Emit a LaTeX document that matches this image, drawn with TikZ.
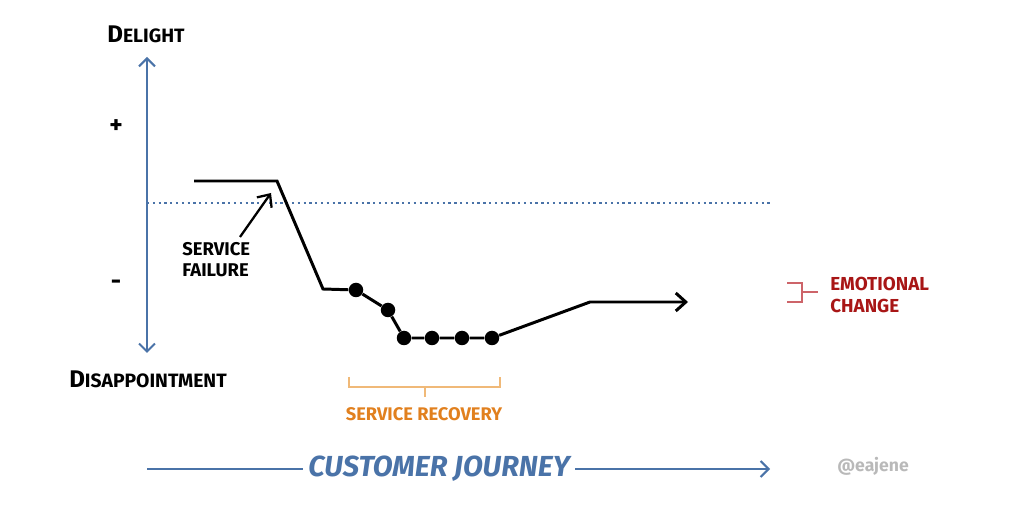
\documentclass[tikz,border=0pt]{standalone}
\usepackage{fontspec}
\setmainfont{Fira Sans}
\usepackage{tikz}
\usetikzlibrary{arrows.meta,positioning}
\definecolor{jblue}{RGB}{74,115,168}
\definecolor{jred}{RGB}{205,100,105}
\definecolor{jdarkred}{RGB}{168,22,22}
\definecolor{jorange}{RGB}{240,185,120}
\definecolor{jdarkorange}{RGB}{225,128,30}
\definecolor{jgrey}{RGB}{185,185,185}
\tikzstyle{axis} = [line width=1.2pt, color=jblue, >={Straight Barb[length=1.6mm,width=3.2mm]}]
\tikzstyle{journey} = [line width=1.7pt, color=black, ->, >={Straight Barb[length=2mm,width=3.6mm]}]
\tikzstyle{dot} = [circle, fill=black, inner sep=0pt, minimum size=0.29cm]
\tikzstyle{lbl} = [font=\bfseries, inner sep=1pt]
\tikzstyle{note} = [font=\bfseries\fontsize{10.5}{12}\selectfont, align=left, inner sep=0pt, anchor=west]
\newcommand{\bigfirst}[2]{{\fontsize{13.7}{15}\selectfont #1}{\fontsize{11}{13}\selectfont #2}}

\begin{document}
\begin{tikzpicture}[x=0.02cm, y=-0.02cm]
    \useasboundingbox (0,0) rectangle (1012,506);

    % Vertical axis
    \node[lbl] (delight) at (146,34) {\bigfirst{D}{ELIGHT}};
    \node[lbl, font=\bfseries\fontsize{9.4}{11}\selectfont] (disap) at (148,379) {\bigfirst{D}{ISAPPOINTMENT}};
    \node[lbl, font=\bfseries\Large] (plus) at (116,127) {+};
    \node[lbl, font=\bfseries\Large] (minus) at (116,285) {-};
    \coordinate (top) at (147,57);
    \coordinate (bot) at (147,353);
    \draw[axis, <->] (top) -- (bot);

    % Baseline
    \coordinate (dl) at (147,203);
    \coordinate (dr) at (772,203);
    \draw[axis, line width=1.3pt, dotted] (dl) -- (dr);

    % Journey line
    \coordinate (s) at (194,181);
    \coordinate (p) at (277,181);
    \coordinate (q) at (323,289);
    \node[dot] (d1) at (356,290) {};
    \node[dot] (d2) at (388,310) {};
    \node[dot] (d3) at (404,338) {};
    \node[dot] (d4) at (432,338) {};
    \node[dot] (d5) at (462,338) {};
    \node[dot] (d6) at (492,338) {};
    \coordinate (r) at (590,302);
    \coordinate (e) at (688,302);
    \draw[journey] (s) -- (p) -- (q) -- (d1) -- (d2) -- (d3) -- (d4) -- (d5) -- (d6) -- (r) -- (e);

    % Service failure
    \node[note] (fail) at (182,260) {SERVICE\\FAILURE};
    \coordinate (failtail) at (240,237);
    \coordinate (failtip) at (271,193);
    \draw[journey, line width=1.3pt] (failtail) -- (failtip);

    % Service recovery
    \draw[jorange, line width=1pt] (349,377) |- (500,387) -- (500,377);
    \coordinate (rectick) at (425,387);
    \node[lbl, font=\bfseries\fontsize{10.4}{12}\selectfont, text=jdarkorange] (rec) at (424,414) {SERVICE RECOVERY};
    \draw[jorange, line width=1pt] (rectick) -- (425,397);

    % Emotional change
    \draw[jred, line width=1pt] (787,283) -| (802,302) -- (787,302);
    \draw[jred, line width=1pt] (802,292) -- (818,292);
    \node[note, font=\bfseries\fontsize{10.7}{12.5}\selectfont, text=jdarkred] (emo) at (830,295) {EMOTIONAL\\CHANGE};

    % Customer journey
    \node[lbl, font=\bfseries\itshape\fontsize{16.5}{18}\selectfont, text=jblue, inner sep=3pt] (cj) at (439,469) {CUSTOMER JOURNEY};
    \coordinate (jstart) at (147,469);
    \coordinate (jend) at (770,469);
    \draw[axis] (jstart) -- (cj.west);
    \draw[axis, ->] (cj.east) -- (jend);

    \node[lbl, font=\bfseries\fontsize{10}{12}\selectfont, text=jgrey] (tag) at (873,466) {@eajene};
\end{tikzpicture}
\end{document}
